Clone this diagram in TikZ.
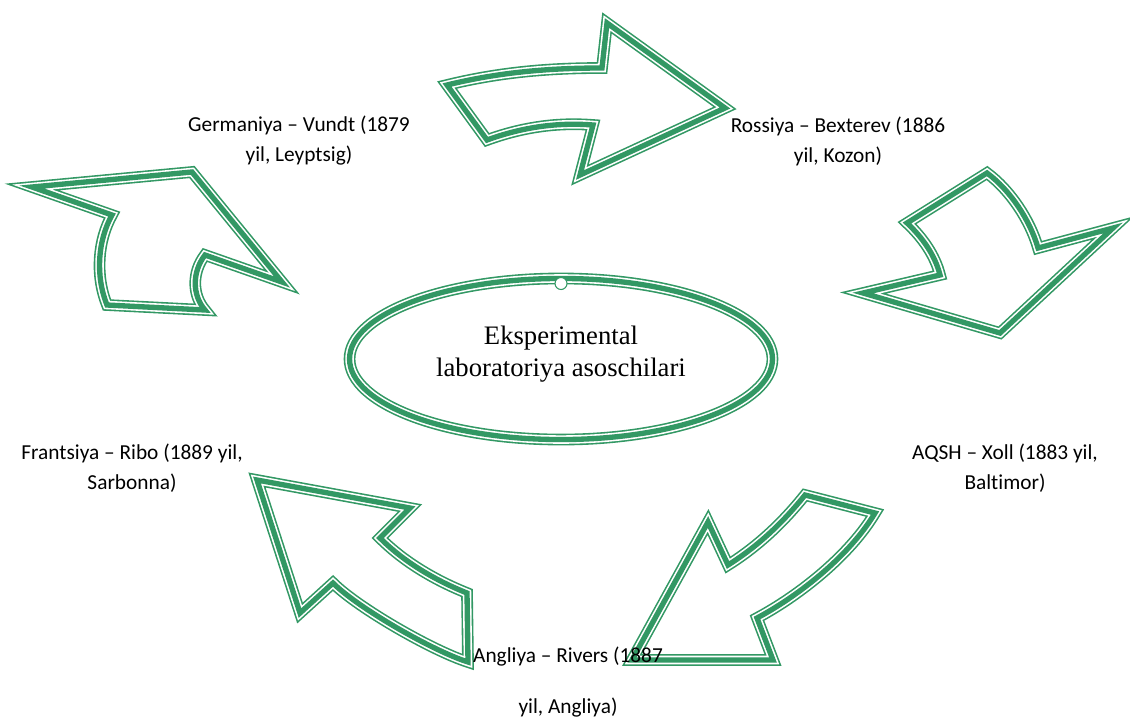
\documentclass[tikz,border=0pt]{standalone}
\usepackage{fontspec}
\setmainfont{Carlito}[Ligatures=NoCommon]
\newfontfamily\serifx{Liberation Serif}
\definecolor{gc}{RGB}{50,152,100}
\begin{document}
\begin{tikzpicture}[x=0.75pt,y=-0.75pt,
  tri/.style={draw=gc,line width=8.8pt,line join=miter,
    postaction={draw=white,line width=6.4pt},
    postaction={draw=gc,line width=4pt}},
  lbl/.style={font=\fontsize{16}{22.5}\selectfont,align=center,inner sep=0pt}]
\useasboundingbox (0,0) rectangle (1130,718);
% top arrow
\draw[tri] (447,85) .. controls (500,72) and (550,68) .. (602,68) -- (607,23) -- (725,108) -- (580,175) -- (593,125)
  .. controls (555,122) and (520,128) .. (487,140) -- cycle;
% right arrow
\draw[tri] (987,173) .. controls (1010,190) and (1030,220) .. (1038,248) -- (1113,228) -- (1000,333) -- (863,293) -- (940,275)
  .. controls (935,255) and (922,237) .. (907,223) -- cycle;
% bottom-right arrow
\draw[tri] (805,495) -- (875,513) .. controls (850,555) and (800,595) .. (757,618) -- (773,660) -- (632,660) -- (708,522) -- (728,565)
  .. controls (760,545) and (785,520) .. (805,495) -- cycle;
% bottom-left arrow
\draw[tri] (257,480) -- (410,508) -- (380,538) .. controls (405,563) and (437,581) .. (467,593) -- (468,662)
  .. controls (433,651) and (358,608) .. (333,583) -- (300,613) -- cycle;
% left arrow
\draw[tri] (32,187) -- (192,172) -- (282,282) -- (205,255) .. controls (192,272) and (192,295) .. (205,310) -- (107,305)
  .. controls (95,275) and (98,240) .. (112,215) -- cycle;
% ellipse
\draw[tri] (561,359) ellipse [x radius=158.6pt, y radius=60.4pt];
\node[circle,draw=gc,fill=white,line width=0.8pt,minimum size=9pt,inner sep=0pt] (hdl) at (561,283.5) {};
\node[font=\serifx\fontsize{20}{24}\selectfont,align=center,inner sep=0pt] (ctr) at (561,354) {Eksperimental\\laboratoriya asoschilari};
\node[lbl] (ger) at (299,141) {Germaniya – Vundt (1879\\yil, Leyptsig)};
\node[lbl] (ros) at (838,141) {Rossiya – Bexterev (1886\\yil, Kozon)};
\node[lbl] (aqs) at (1005,468) {AQSH – Xoll (1883 yil,\\Baltimor)};
\node[lbl] (fra) at (132,468) {Frantsiya – Ribo (1889 yil,\\Sarbonna)};
\node[lbl] (ang) at (568,682) {Angliya – Rivers (1887\\[15.75pt]yil, Angliya)};
\end{tikzpicture}
\end{document}
